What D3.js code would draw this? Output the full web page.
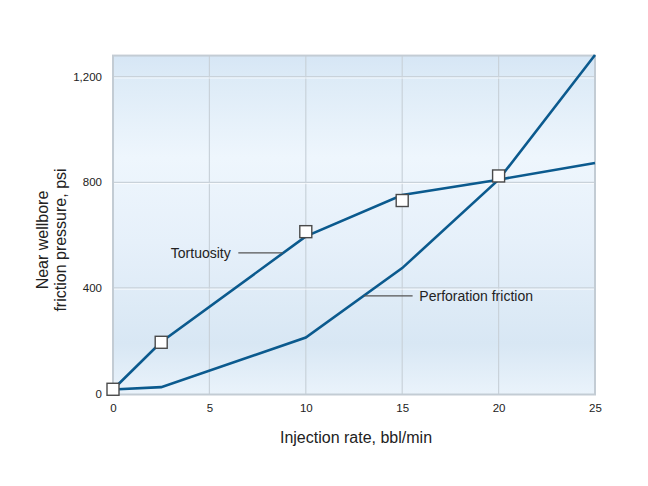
<!DOCTYPE html>
<html><head><meta charset="utf-8">
<script src="https://cdn.jsdelivr.net/npm/d3@7"></script>
<style>body{margin:0;background:#fff}svg{display:block}text{font-family:"Liberation Sans",Arial,Helvetica,sans-serif}</style>
</head><body>
<script>
const xTicks = [0, 5, 10, 15, 20, 25];
const yTicks = [0, 400, 800, 1200];
const tortX = [0, 2.5, 10, 15, 20, 25];
const tortY = [15, 195, 595, 752, 810, 873];
const perfX = [0, 2.5, 10, 15, 20, 25];
const perfY = [15, 24, 212, 475, 810, 1282];
const markX = [0, 2.5, 10, 15, 20];
const markY = [16, 194, 613, 731, 824];
const xTitle = "Injection rate, bbl/min";
const yTitle = ["Near wellbore", "friction pressure, psi"];
const labels = [{text: "Tortuosity", x: 3.0, y: 533, lx0: 6.5, lx1: 8.8},
                {text: "Perforation friction", x: 15.89, y: 370, lx0: 13.02, lx1: 15.54}];

(function () {
const W = 648, H = 486;
const svg = d3.select("body").append("svg").attr("width", W).attr("height", H);
const x = d3.scaleLinear().domain([0, 25]).range([113, 595]);
const y = d3.scaleLinear().domain([0, 1200]).range([393.5, 76.7]);
const pTop = y(1280), pBottom = y(0) + 1;

const defs = svg.append("defs");
const g = defs.append("linearGradient").attr("id", "bg").attr("x1", 0).attr("x2", 0).attr("y1", 0).attr("y2", 1);
[[0, "#d6e6f5"], [0.07, "#ddebf7"], [0.3, "#eef6fd"], [0.55, "#e6f0fa"], [0.85, "#d8e7f4"], [1, "#eaf3fb"]]
  .forEach(([o, c]) => g.append("stop").attr("offset", o).attr("stop-color", c));

svg.append("rect").attr("x", x(0)).attr("y", pTop).attr("width", x(25) - x(0)).attr("height", pBottom - pTop)
  .attr("fill", "url(#bg)");

// grid
svg.append("g").selectAll("line").data(xTicks.slice(1, -1)).join("line")
  .attr("x1", d => x(d)).attr("x2", d => x(d)).attr("y1", pTop).attr("y2", pBottom)
  .attr("stroke", "#c9d2da").attr("stroke-width", 1.2);
svg.append("g").selectAll("line").data(yTicks.slice(1)).join("line")
  .attr("x1", x(0)).attr("x2", x(25)).attr("y1", d => y(d)).attr("y2", d => y(d))
  .attr("stroke", "#c9d2da").attr("stroke-width", 1.2);
svg.append("g").selectAll("line").data(yTicks.slice(1)).join("line")
  .attr("x1", x(0)).attr("x2", x(25)).attr("y1", d => y(d) + 1.3).attr("y2", d => y(d) + 1.3)
  .attr("stroke", "#ffffff").attr("stroke-opacity", 0.7).attr("stroke-width", 1);

svg.append("rect").attr("x", x(0)).attr("y", pTop).attr("width", x(25) - x(0)).attr("height", pBottom - pTop)
  .attr("fill", "none").attr("stroke", "#c3ccd4").attr("stroke-width", 2);

// axes
const xa = svg.append("g").attr("transform", `translate(0,${pBottom})`)
  .call(d3.axisBottom(x).tickValues(xTicks).tickSize(0).tickPadding(9));
xa.select(".domain").remove();
xa.selectAll("text").attr("font-size", 11.5).attr("fill", "#222").style("font-family", '"Liberation Sans",Arial,sans-serif');
const ya = svg.append("g").attr("transform", `translate(${x(0)},0)`)
  .call(d3.axisLeft(y).tickValues(yTicks).tickSize(0).tickPadding(11).tickFormat(d3.format(",")));
ya.select(".domain").remove();
ya.selectAll("text").attr("font-size", 11.5).attr("fill", "#222").style("font-family", '"Liberation Sans",Arial,sans-serif');

svg.append("text").attr("x", 356).attr("y", 443).attr("text-anchor", "middle")
  .attr("font-size", 16).attr("fill", "#222").text(xTitle);
const yt = svg.append("text").attr("transform", "translate(48,240) rotate(-90)").attr("text-anchor", "middle")
  .attr("font-size", 16).attr("fill", "#222");
yTitle.forEach((t, i) => yt.append("tspan").attr("x", 0).attr("dy", i ? 18 : 0).text(t));

// lines
const line = d3.line().x(d => x(d[0])).y(d => y(d[1]));
svg.append("path").datum(perfX.map((v, i) => [v, perfY[i]])).attr("d", line)
  .attr("fill", "none").attr("stroke", "#0b5a8e").attr("stroke-width", 2.6);
svg.append("path").datum(tortX.map((v, i) => [v, tortY[i]])).attr("d", line)
  .attr("fill", "none").attr("stroke", "#0b5a8e").attr("stroke-width", 2.6);

// annotations
labels.forEach(l => {
  svg.append("text").attr("x", x(l.x)).attr("y", y(l.y) + 5).attr("font-size", 14).attr("fill", "#222").text(l.text);
  svg.append("line").attr("x1", x(l.lx0)).attr("x2", x(l.lx1)).attr("y1", y(l.y)).attr("y2", y(l.y))
    .attr("stroke", "#555").attr("stroke-width", 1.3);
});

// markers
const s = 12;
svg.append("g").selectAll("rect").data(markX.map((v, i) => [v, markY[i]])).join("rect")
  .attr("x", d => x(d[0]) - s / 2).attr("y", d => y(d[1]) - s / 2).attr("width", s).attr("height", s)
  .attr("fill", "#fff").attr("stroke", "#4a4a4a").attr("stroke-width", 1.4);
})();
</script>
</body></html>
